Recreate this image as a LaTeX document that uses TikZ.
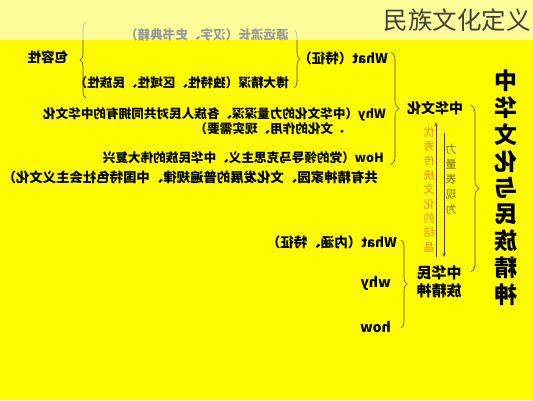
\documentclass[tikz,border=0pt]{standalone}
\usepackage{fontspec}
\setmainfont{Noto Sans CJK SC}
\usepackage{graphicx}
\usetikzlibrary{decorations.pathreplacing,arrows.meta}
\definecolor{bgyellow}{RGB}{255,252,0}
\definecolor{bracebrown}{RGB}{80,62,20}
\definecolor{orangetxt}{RGB}{218,138,30}
\definecolor{olivetxt}{RGB}{120,100,30}
\def\flip#1{\scalebox{-1}[1]{#1}}
\tikzset{
	txt/.style={font=\fontsize{12.6}{15}\selectfont\bfseries, inner sep=0pt},
	brc/.style={draw=bracebrown, line width=0.6pt, decorate, decoration={brace, amplitude=#1}},
	brc/.default=6pt,
}

\begin{document}
\begin{tikzpicture}[x=1pt,y=-1pt]
		%%%%% START %%%%%
		
		\fill[bgyellow] (0,0) rectangle (533,400);
		\useasboundingbox (0,0) rectangle (533,400);
		
		% what
		\node[txt, anchor=east] (yuan) at (289,35) {\flip{源远流长（汉字、史书典籍）}};
		\node[txt, anchor=east] (boda) at (289,83) {\flip{博大精深（独特性、区域性、民族性）}};
		\node[txt, font=\fontsize{13.5}{15}\selectfont\bfseries] (baorong) at (48,57) {\flip{包容性}};
		\draw[brc] (86,98) -- (86,22);
		\draw[brc] (294,30) -- (294,88);
		\node[txt, anchor=east, font=\fontsize{13.5}{15}\selectfont\bfseries] (what) at (388,58) {\flip{What（特征）}};
		
		% why, how
		\node[txt, anchor=east] (whya) at (386,114) {\flip{Why（中华文化的力量深深、各族人民对共同拥有的中华文化}};
		\node[txt, anchor=east] (whyb) at (346,129) {\flip{．文化的作用、现实需要）}};
		\node[txt, anchor=east] (howa) at (384,158) {\flip{How（党的领导马克思主义、中华民族的伟大复兴}};
		\node[txt, anchor=east, font=\fontsize{13.4}{15}\selectfont\bfseries] (howb) at (378,177) {\flip{共有精神家园、文化发展的普遍规律、中国特色社会主义文化）}};
		\draw[brc=8pt] (391,52) -- (391,165);
		
		\node[txt, font=\fontsize{14}{16}\selectfont\bfseries] (zhwh) at (435,108) {\flip{中华文化}};
		
		% middle columns
		\node[inner sep=0pt, text=orangetxt, font=\fontsize{11}{14.3}\selectfont] (youxiu) at (429,191)
			{\flip{\begin{tabular}{@{}c@{}}优\\秀\\传\\统\\文\\化\\的\\结\\晶\end{tabular}}};
		\node[inner sep=0pt, text=olivetxt, font=\fontsize{11}{15}\selectfont] (liliang) at (451,180)
			{\flip{\begin{tabular}{@{}c@{}}力\\量\\表\\现\\为\end{tabular}}};
		\coordinate (upb) at (436,257);
		\coordinate (upt) at (436,122);
		\coordinate (dnt) at (444,133);
		\coordinate (dnb) at (444,257);
		\draw[bracebrown, line width=0.6pt, -{Stealth[length=4pt,width=3pt]}] (upb) -- (upt);
		\draw[bracebrown, line width=0.6pt, -{Stealth[length=4pt,width=3pt]}] (dnt) -- (dnb);
		\draw[brc=8pt] (471,105) -- (471,272);
		
		% big title
		\node[inner sep=0pt, font=\fontsize{23}{23.75}\selectfont\bfseries] (zhuti) at (506,190)
			{\flip{\begin{tabular}{@{}c@{}}中\\华\\文\\化\\与\\民\\族\\精\\神\end{tabular}}};
		
		% lower part
		\node[txt, anchor=east, font=\fontsize{13.5}{15}\selectfont\bfseries] (whatb) at (397,242) {\flip{What（内涵、特征）}};
		\node[txt, anchor=east, font=\fontsize{14}{15}\selectfont\bfseries] (whyc) at (391,283) {\flip{why}};
		\node[txt, anchor=east, font=\fontsize{14}{15}\selectfont\bfseries] (howc) at (391,327) {\flip{how}};
		\draw[brc] (401,240) -- (401,328);
		\node[txt, font=\fontsize{15}{18}\selectfont\bfseries] (jingshen) at (439,284)
			{\flip{\begin{tabular}{@{}c@{}}中华民\\族精神\end{tabular}}};
		
		% faded top band
		\fill[white, opacity=0.6] (0,0) rectangle (533,40);
		\node[inner sep=0pt, text=black!75, font=\fontsize{24.5}{26}\selectfont] (titel) at (457,20) {民族文化定义};
		
		%%%%% END %%%%%
\end{tikzpicture}
\end{document}
